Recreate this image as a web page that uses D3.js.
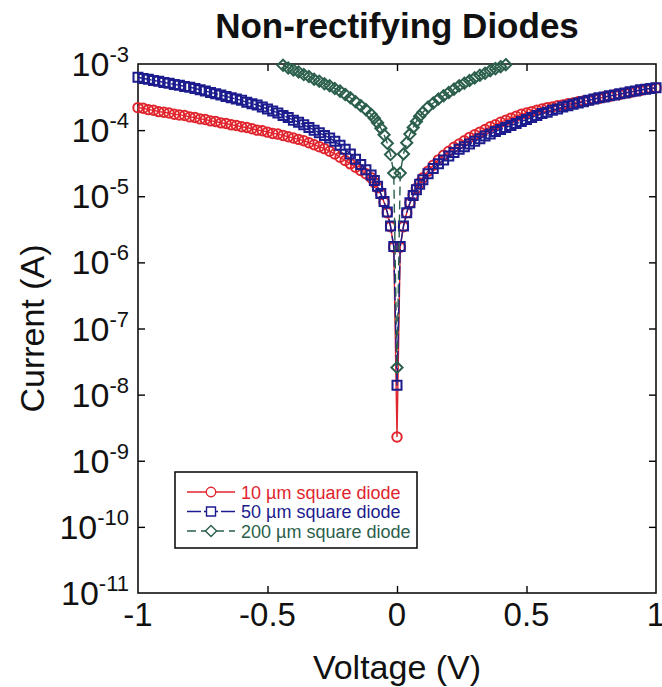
<!DOCTYPE html>
<html>
<head>
<meta charset="utf-8">
<script src="https://cdn.jsdelivr.net/npm/d3@7"></script>
<style>
  html, body { margin: 0; padding: 0; background: #fff; }
  svg { display: block; font-family: "Liberation Sans", Arial, Helvetica, sans-serif; }
</style>
</head>
<body>
<svg id="chart" width="662" height="687"></svg>
<script>
// Bias sweep (V) shared by the 10 µm and 50 µm devices
const voltsSmall = [
  -1.00, -0.98, -0.96, -0.94, -0.92, -0.90, -0.88, -0.86, -0.84, -0.82,
  -0.80, -0.78, -0.76, -0.74, -0.72, -0.70, -0.68, -0.66, -0.64, -0.62,
  -0.60, -0.58, -0.56, -0.54, -0.52, -0.50, -0.48, -0.46, -0.44, -0.42,
  -0.40, -0.38, -0.36, -0.34, -0.32, -0.30, -0.28, -0.26, -0.24, -0.22,
  -0.20, -0.18, -0.16, -0.14, -0.12, -0.10,
  -0.0875, -0.075, -0.0625, -0.05, -0.0375, -0.025, -0.0125, 0,
  0.0125, 0.025, 0.0375, 0.05, 0.0625, 0.075, 0.0875,
  0.10, 0.12, 0.14, 0.16, 0.18, 0.20, 0.22, 0.24, 0.26, 0.28,
  0.30, 0.32, 0.34, 0.36, 0.38, 0.40, 0.42, 0.44, 0.46, 0.48,
  0.50, 0.52, 0.54, 0.56, 0.58, 0.60, 0.62, 0.64, 0.66, 0.68,
  0.70, 0.72, 0.74, 0.76, 0.78, 0.80, 0.82, 0.84, 0.86, 0.88,
  0.90, 0.92, 0.94, 0.96, 0.98, 1.00
];

// Current magnitude as decade exponent, log10(|I| / A)
const log10I_10um = [
  -3.66, -3.67, -3.69, -3.70, -3.72, -3.73, -3.74, -3.76, -3.77, -3.78,
  -3.80, -3.81, -3.83, -3.84, -3.86, -3.87, -3.89, -3.90, -3.92, -3.93,
  -3.95, -3.96, -3.98, -4.00, -4.01, -4.03, -4.05, -4.06, -4.08, -4.10,
  -4.12, -4.14, -4.16, -4.19, -4.22, -4.25, -4.28, -4.32, -4.36, -4.41,
  -4.46, -4.51, -4.56, -4.61, -4.66, -4.72,
  -4.79, -4.87, -4.97, -5.09, -5.25, -5.46, -5.77, -8.64,
  -5.77, -5.46, -5.25, -5.10, -4.98, -4.88, -4.80,
  -4.72, -4.62, -4.53, -4.45, -4.38, -4.32, -4.26, -4.21, -4.16, -4.11,
  -4.07, -4.03, -3.99, -3.95, -3.92, -3.88, -3.85, -3.82, -3.79, -3.76,
  -3.74, -3.72, -3.70, -3.68, -3.66, -3.65, -3.63, -3.62, -3.60, -3.59,
  -3.57, -3.56, -3.55, -3.53, -3.52, -3.50, -3.49, -3.47, -3.46, -3.44,
  -3.43, -3.41, -3.40, -3.38, -3.37, -3.36
];

const log10I_50um = [
  -3.20, -3.22, -3.23, -3.25, -3.26, -3.28, -3.29, -3.31, -3.32, -3.34,
  -3.35, -3.37, -3.39, -3.41, -3.43, -3.45, -3.47, -3.49, -3.51, -3.53,
  -3.55, -3.58, -3.60, -3.62, -3.65, -3.68, -3.71, -3.74, -3.78, -3.81,
  -3.85, -3.88, -3.92, -3.96, -4.00, -4.04, -4.08, -4.12, -4.17, -4.23,
  -4.29, -4.36, -4.44, -4.52, -4.60, -4.68,
  -4.76, -4.85, -4.96, -5.08, -5.24, -5.45, -5.76, -7.86,
  -5.76, -5.45, -5.25, -5.10, -4.99, -4.90, -4.82,
  -4.75, -4.66, -4.58, -4.51, -4.45, -4.39, -4.34, -4.29, -4.25, -4.21,
  -4.17, -4.13, -4.09, -4.06, -4.02, -3.99, -3.96, -3.93, -3.90, -3.87,
  -3.84, -3.81, -3.78, -3.75, -3.73, -3.70, -3.68, -3.65, -3.63, -3.61,
  -3.59, -3.57, -3.55, -3.53, -3.51, -3.50, -3.48, -3.47, -3.45, -3.44,
  -3.42, -3.41, -3.39, -3.38, -3.37, -3.36
];

// The 200 µm device hits the 1 mA ceiling sooner, so its sweep is shorter
const voltsLarge = [
  -0.44, -0.42, -0.40, -0.38, -0.36, -0.34, -0.32, -0.30, -0.28, -0.26,
  -0.24, -0.22, -0.20, -0.18, -0.16, -0.14, -0.12, -0.10,
  -0.0875, -0.075, -0.0625, -0.05, -0.0375, -0.025, -0.0125, 0,
  0.0125, 0.025, 0.0375, 0.05, 0.0625, 0.075, 0.0875,
  0.10, 0.12, 0.14, 0.16, 0.18, 0.20, 0.22, 0.24, 0.26, 0.28,
  0.30, 0.32, 0.34, 0.36, 0.38, 0.40, 0.42
];

const log10I_200um = [
  -3.02, -3.06, -3.09, -3.12, -3.16, -3.19, -3.23, -3.26, -3.30, -3.33,
  -3.37, -3.41, -3.46, -3.51, -3.57, -3.63, -3.69, -3.76,
  -3.82, -3.89, -3.97, -4.07, -4.20, -4.37, -4.65, -7.59,
  -4.65, -4.36, -4.19, -4.06, -3.96, -3.87, -3.79,
  -3.73, -3.65, -3.59, -3.53, -3.48, -3.43, -3.38, -3.33, -3.29, -3.25,
  -3.21, -3.17, -3.14, -3.10, -3.07, -3.04, -3.01
];

const xTickValues = [-1, -0.5, 0, 0.5, 1];
const yTickExponents = [-3, -4, -5, -6, -7, -8, -9, -10, -11];
const legendLabels = ["10 µm square diode", "50 µm square diode", "200 µm square diode"];

// ---------------------------------------------------------------------------
const svg = d3.select("#chart");
const plot = { left: 138, right: 656, top: 64, bottom: 593 };

const x = d3.scaleLinear().domain([-1, 1]).range([plot.left, plot.right]);
const y = d3.scaleLog().domain([1e-11, 1e-3]).range([plot.bottom, plot.top]);

const toPoints = (volts, exps) => volts.map((v, i) => ({ v, i: Math.pow(10, exps[i]) }));

const series = [
  { name: legendLabels[0], color: "#e0252e", marker: "circle", dash: null,
    points: toPoints(voltsSmall, log10I_10um) },
  { name: legendLabels[1], color: "#1c1c8e", marker: "square", dash: "14,3",
    points: toPoints(voltsSmall, log10I_50um) },
  { name: legendLabels[2], color: "#2b5f4c", marker: "diamond", dash: "9,5",
    points: toPoints(voltsLarge, log10I_200um) }
];

// Marker outlines
function markerPath(kind) {
  if (kind === "circle") return d3.symbol(d3.symbolCircle, 70)();
  if (kind === "square") return d3.symbol(d3.symbolSquare, 81)();
  // square turned on its corner
  const h = 5.6;
  return `M0,${-h}L${h},0L0,${h}L${-h},0Z`;
}

// Frame ticks (inward on all four sides)
const xTickMarks = [-0.5, 0, 0.5];
svg.append("g")
  .attr("transform", `translate(0,${plot.bottom})`)
  .call(d3.axisBottom(x).tickValues(xTickMarks).tickSizeInner(-7).tickSizeOuter(0).tickFormat(""))
  .call(g => g.select(".domain").remove())
  .selectAll("line").attr("stroke", "#000").attr("stroke-width", 1.4);
svg.append("g")
  .attr("transform", `translate(0,${plot.top})`)
  .call(d3.axisTop(x).tickValues(xTickMarks).tickSizeInner(-7).tickSizeOuter(0).tickFormat(""))
  .call(g => g.select(".domain").remove())
  .selectAll("line").attr("stroke", "#000").attr("stroke-width", 1.4);

const yInner = yTickExponents.filter(e => e < -3 && e > -11).map(e => Math.pow(10, e));
svg.append("g")
  .attr("transform", `translate(${plot.left},0)`)
  .call(d3.axisLeft(y).tickValues(yInner).tickSizeInner(-7).tickSizeOuter(0).tickFormat(""))
  .call(g => g.select(".domain").remove())
  .selectAll("line").attr("stroke", "#000").attr("stroke-width", 1.4);
svg.append("g")
  .attr("transform", `translate(${plot.right},0)`)
  .call(d3.axisRight(y).tickValues(yInner).tickSizeInner(-7).tickSizeOuter(0).tickFormat(""))
  .call(g => g.select(".domain").remove())
  .selectAll("line").attr("stroke", "#000").attr("stroke-width", 1.4);

// Plot frame
svg.append("rect")
  .attr("x", plot.left).attr("y", plot.top)
  .attr("width", plot.right - plot.left).attr("height", plot.bottom - plot.top)
  .attr("fill", "none").attr("stroke", "#111").attr("stroke-width", 1.6);

// Curves
const line = d3.line().x(d => x(d.v)).y(d => y(d.i));
series.forEach(s => {
  const g = svg.append("g");
  g.append("path")
    .datum(s.points)
    .attr("d", line)
    .attr("fill", "none")
    .attr("stroke", s.color)
    .attr("stroke-width", 1.4)
    .attr("stroke-dasharray", s.dash);
  g.selectAll("path.m")
    .data(s.points)
    .join("path")
    .attr("class", "m")
    .attr("d", markerPath(s.marker))
    .attr("transform", d => `translate(${x(d.v)},${y(d.i)})`)
    .attr("fill", "none")
    .attr("stroke", s.color)
    .attr("stroke-width", 2);
});

// X tick labels
svg.append("g").selectAll("text")
  .data(xTickValues)
  .join("text")
  .attr("x", d => x(d))
  .attr("y", 626)
  .attr("text-anchor", "middle")
  .attr("font-size", 33)
  .attr("fill", "#111")
  .text(d => d3.format("")(d).replace("−", "-"));

// Y tick labels: 10 with superscript exponent
const yl = svg.append("g").selectAll("text")
  .data(yTickExponents)
  .join("text")
  .attr("x", 129)
  .attr("y", d => y(Math.pow(10, d)) + 12)
  .attr("text-anchor", "end")
  .attr("font-size", 34)
  .attr("fill", "#111");
yl.append("tspan").text("10");
yl.append("tspan").attr("font-size", 22).attr("dy", -14).text(d => String(d));

// Axis titles
svg.append("text")
  .attr("x", (plot.left + plot.right) / 2).attr("y", 679)
  .attr("text-anchor", "middle").attr("font-size", 34).attr("fill", "#111")
  .text("Voltage (V)");
svg.append("text")
  .attr("transform", `translate(44,${(plot.top + plot.bottom) / 2}) rotate(-90)`)
  .attr("text-anchor", "middle").attr("font-size", 34).attr("fill", "#111")
  .text("Current (A)");

// Title
svg.append("text")
  .attr("x", (plot.left + plot.right) / 2).attr("y", 38)
  .attr("text-anchor", "middle").attr("font-size", 35).attr("font-weight", "bold")
  .attr("fill", "#111")
  .text("Non-rectifying Diodes");

// Legend
const legend = svg.append("g").attr("transform", "translate(175,472)");
legend.append("rect")
  .attr("width", 242).attr("height", 76)
  .attr("fill", "#fff").attr("stroke", "#111").attr("stroke-width", 1.6);
series.forEach((s, k) => {
  const cy = 20 + k * 19.5;
  const row = legend.append("g").attr("transform", `translate(0,${cy})`);
  row.append("line")
    .attr("x1", 12).attr("x2", 60).attr("y1", 0).attr("y2", 0)
    .attr("stroke", s.color).attr("stroke-width", 1.4)
    .attr("stroke-dasharray", s.dash);
  row.append("path")
    .attr("d", markerPath(s.marker))
    .attr("transform", "translate(36,0)")
    .attr("fill", "#fff").attr("stroke", s.color).attr("stroke-width", 1.4);
  row.append("text")
    .attr("x", 66).attr("y", 6.5)
    .attr("font-size", 18)
    .attr("fill", s.color)
    .text(s.name);
});
</script>
</body>
</html>
